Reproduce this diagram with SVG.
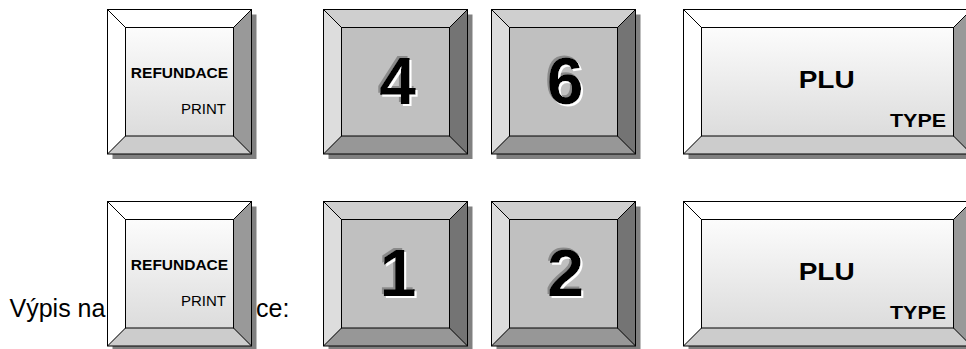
<svg xmlns="http://www.w3.org/2000/svg" xmlns:xlink="http://www.w3.org/1999/xlink" width="966" height="349" viewBox="0 0 966 349">
<style>
.sh{fill:#808080}
.ln{fill:none;stroke:#000;stroke-width:1}
.lt-top,.lt-left{fill:#fff}
.lt-right{fill:#999}
.lt-bot{fill:#ccc}
.dk-top{fill:#cfcfcf}
.dk-left{fill:#dddddd}
.dk-right{fill:#747474}
.dk-bot{fill:#979797}
.dk-face{fill:#c0c0c0}
.t{font-family:"Liberation Sans",Arial,sans-serif;fill:#000}
.b{font-weight:bold}
.dig{font-family:"Liberation Sans",Arial,sans-serif;font-weight:bold;font-size:66px;text-anchor:middle;fill:#000;filter:url(#emb)}
</style>
<defs>
<filter id="emb" x="-30%" y="-30%" width="160%" height="160%">
<feOffset in="SourceAlpha" dx="-2" dy="-2" result="o1"/>
<feFlood flood-color="#8a8a8a" result="f1"/>
<feComposite in="f1" in2="o1" operator="in" result="gray"/>
<feOffset in="SourceAlpha" dx="2" dy="2" result="o2"/>
<feFlood flood-color="#ffffff" result="f2"/>
<feComposite in="f2" in2="o2" operator="in" result="white"/>
<feMerge><feMergeNode in="gray"/><feMergeNode in="white"/><feMergeNode in="SourceGraphic"/></feMerge>
</filter>
<linearGradient id="gLight" x1="0" y1="0" x2="0" y2="1">
<stop offset="0" stop-color="#fcfcfc"/>
<stop offset="1" stop-color="#dcdcdc"/>
</linearGradient>
<g id="lightSq">
<rect class="sh" x="5" y="5" width="144" height="144.5"/>
<polygon class="lt-top" points="0,0 144,0 126,18 18,18"/>
<polygon class="lt-left" points="0,0 18,18 18,126.5 0,144.5"/>
<polygon class="lt-right" points="144,0 144,144.5 126,126.5 126,18"/>
<polygon class="lt-bot" points="0,144.5 18,126.5 126,126.5 144,144.5"/>
<rect x="18" y="18" width="108" height="108.5" fill="url(#gLight)"/>
<rect class="ln" x="0" y="0" width="144" height="144.5"/>
<rect class="ln" x="18" y="18" width="108" height="108.5"/>
<path class="ln" d="M0 0L18 18M144 0L126 18M0 144.5L18 126.5M144 144.5L126 126.5"/>
</g>
<g id="darkSq">
<rect class="sh" x="5" y="5" width="144" height="144.5"/>
<polygon class="dk-top" points="0,0 144,0 126,18 18,18"/>
<polygon class="dk-left" points="0,0 18,18 18,126.5 0,144.5"/>
<polygon class="dk-right" points="144,0 144,144.5 126,126.5 126,18"/>
<polygon class="dk-bot" points="0,144.5 18,126.5 126,126.5 144,144.5"/>
<rect class="dk-face" x="18" y="18" width="108" height="108.5"/>
<rect class="ln" x="0" y="0" width="144" height="144.5"/>
<rect class="ln" x="18" y="18" width="108" height="108.5"/>
<path class="ln" d="M0 0L18 18M144 0L126 18M0 144.5L18 126.5M144 144.5L126 126.5"/>
</g>
<g id="wideKey">
<rect class="sh" x="5" y="5" width="288" height="144.5"/>
<polygon class="lt-top" points="0,0 288,0 270,18 18,18"/>
<polygon class="lt-left" points="0,0 18,18 18,126.5 0,144.5"/>
<polygon class="lt-right" points="288,0 288,144.5 270,126.5 270,18"/>
<polygon class="lt-bot" points="0,144.5 18,126.5 270,126.5 288,144.5"/>
<rect x="18" y="18" width="252" height="108.5" fill="url(#gLight)"/>
<rect class="ln" x="0" y="0" width="288" height="144.5"/>
<rect class="ln" x="18" y="18" width="252" height="108.5"/>
<path class="ln" d="M0 0L18 18M288 0L270 18M0 144.5L18 126.5M288 144.5L270 126.5"/>
</g>
</defs>
<rect width="966" height="349" fill="#fff"/>

<g id="caption">
<text class="t" x="9.5" y="317" font-size="25">Výpis na</text>
<text class="t" x="256" y="317" font-size="25">ce:</text>
</g>

<g id="connectors"></g>

<g id="key-refund-1" transform="translate(107.5,9.5)">
<use xlink:href="#lightSq"/>
<text class="t b" x="72" y="68.2" font-size="15.5" text-anchor="middle">REFUNDACE</text>
<text class="t" x="118.5" y="104.5" font-size="15" text-anchor="end">PRINT</text>
</g>
<g id="key-4" transform="translate(323.5,9.5)">
<use xlink:href="#darkSq"/>
<text class="dig" x="74" y="94.5">4</text>
</g>
<g id="key-6" transform="translate(491.5,9.5)">
<use xlink:href="#darkSq"/>
<text class="dig" x="73.5" y="94.5">6</text>
</g>
<g id="key-plu-1" transform="translate(683.5,9.5)">
<use xlink:href="#wideKey"/>
<text class="t b" x="143.2" y="78.8" font-size="24.5" text-anchor="middle" textLength="56" lengthAdjust="spacingAndGlyphs">PLU</text>
<text class="t b" x="262.5" y="117.2" font-size="18.6" text-anchor="end" textLength="56" lengthAdjust="spacingAndGlyphs">TYPE</text>
</g>

<g id="key-refund-2" transform="translate(107.5,201.5)">
<use xlink:href="#lightSq"/>
<text class="t b" x="72" y="68.2" font-size="15.5" text-anchor="middle">REFUNDACE</text>
<text class="t" x="118.5" y="104.5" font-size="15" text-anchor="end">PRINT</text>
</g>
<g id="key-1" transform="translate(323.5,201.5)">
<use xlink:href="#darkSq"/>
<text class="dig" x="74.5" y="94.5">1</text>
</g>
<g id="key-2" transform="translate(491.5,201.5)">
<use xlink:href="#darkSq"/>
<text class="dig" x="74" y="94.5">2</text>
</g>
<g id="key-plu-2" transform="translate(683.5,201.5)">
<use xlink:href="#wideKey"/>
<text class="t b" x="143.2" y="78.8" font-size="24.5" text-anchor="middle" textLength="56" lengthAdjust="spacingAndGlyphs">PLU</text>
<text class="t b" x="262.5" y="117.2" font-size="18.6" text-anchor="end" textLength="56" lengthAdjust="spacingAndGlyphs">TYPE</text>
</g>
</svg>
